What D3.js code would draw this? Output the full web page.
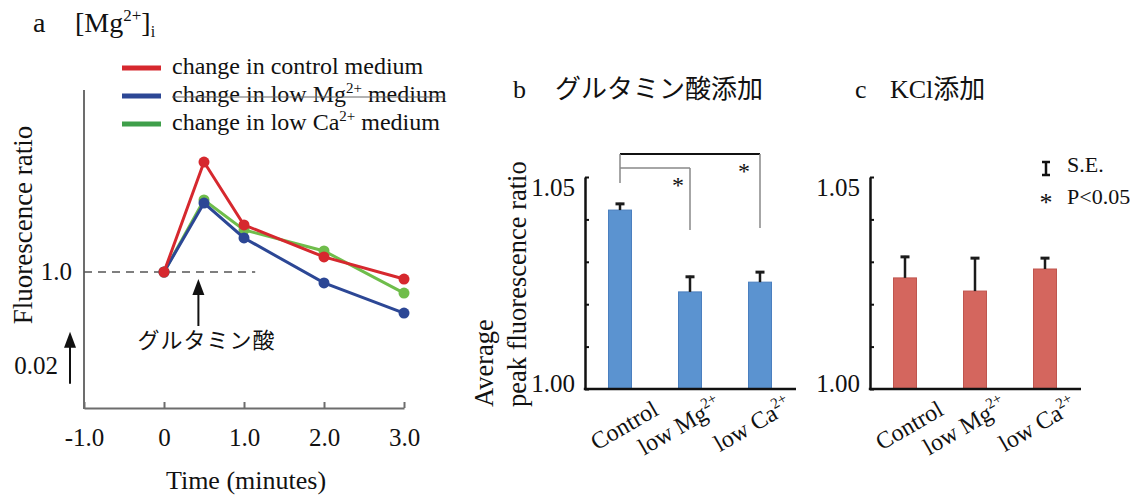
<!DOCTYPE html>
<html>
<head>
<meta charset="utf-8">
<script src="https://cdn.jsdelivr.net/npm/d3@7"></script>
<style>
  html, body { margin: 0; padding: 0; background: #fff; }
  svg { display: block; }
  text { font-family: "Liberation Serif", "Noto Sans CJK JP", serif; fill: #111; }
</style>
</head>
<body>
<svg id="fig" width="1140" height="498"></svg>
<script>
// ---- panel a: time course of [Mg2+]i fluorescence ratio ----
const timeMin = [0, 0.5, 1, 2, 3];
const controlRatio = [1.0, 1.0423, 1.0181, 1.0058, 0.9973];
const lowMgRatio   = [1.0, 1.0265, 1.0131, 0.9958, 0.9842];
const lowCaRatio   = [1.0, 1.0277, 1.0162, 1.0081, 0.9919];
const timeTicks = [-1, 0, 1, 2, 3];
const timeTickLabels = ["-1.0", "0", "1.0", "2.0", "3.0"];
const seriesNames = ["change in control medium", "change in low Mg", "change in low Ca"];

// ---- panel b / c: average peak fluorescence ratio ----
const groups = ["Control", "low Mg", "low Ca"];
const glutamateMean = [1.0422, 1.0229, 1.0252];
const glutamateSE   = [0.0017, 0.0038, 0.0026];
const kclMean = [1.0262, 1.0231, 1.0283];
const kclSE   = [0.0052, 0.0080, 0.0028];
const peakTicks = [1.00, 1.01, 1.02, 1.03, 1.04, 1.05];
const peakTickLabels = ["1.00", "", "", "", "", "1.05"];

const svg = d3.select("#fig");

// ================= panel a =================
const ax = d3.scaleLinear().domain([-1, 3]).range([84, 404]);
const ay = d3.scaleLinear().domain([0.9477, 1.07]).range([408, 90]);
const axisGrey = "#6d6d6d";

const gA = svg.append("g");

// title
const tA = gA.append("text").attr("x", 33).attr("y", 32).style("font-size", "28px");
tA.append("tspan").text("a");
tA.append("tspan").attr("x", 75).text("[Mg");
tA.append("tspan").attr("dy", -11).style("font-size", "17px").text("2+");
tA.append("tspan").attr("dy", 11).text("]");
tA.append("tspan").attr("dy", 5).style("font-size", "16px").text("i");

// axes
const xAxisA = d3.axisBottom(ax).tickValues(timeTicks).tickSizeInner(-6).tickSizeOuter(0)
  .tickFormat((d, i) => timeTickLabels[i]).tickPadding(20);
const gxA = gA.append("g").attr("transform", `translate(0,${ay.range()[0]})`).call(xAxisA);
gxA.select(".domain").attr("stroke", axisGrey).attr("stroke-width", 2);
gxA.selectAll(".tick line").attr("stroke", axisGrey).attr("stroke-width", 2);
gxA.selectAll(".tick text").style("font-size", "25px").attr("fill", "#111").attr("font-family", null);

gA.append("line").attr("x1", ax(-1)).attr("x2", ax(-1)).attr("y1", ay.range()[0] + 1).attr("y2", ay.range()[1])
  .attr("stroke", axisGrey).attr("stroke-width", 2);

gA.append("text").attr("x", (ax(-1) + ax(3)) / 2 + 2).attr("y", 489).attr("text-anchor", "middle")
  .style("font-size", "26px").text("Time (minutes)");

gA.append("text").attr("transform", "translate(32,225) rotate(-90)")
  .attr("text-anchor", "middle").style("font-size", "27px").text("Fluorescence ratio");

// 1.0 reference
gA.append("text").attr("x", 72).attr("y", ay(1.0) + 8).attr("text-anchor", "end")
  .style("font-size", "25px").text("1.0");
gA.append("line").attr("x1", ax(-1)).attr("x2", ax(1.14)).attr("y1", ay(1.0)).attr("y2", ay(1.0))
  .attr("stroke", "#555").attr("stroke-width", 1.5).attr("stroke-dasharray", "8,6");

// vertical scale arrow (0.02 units)
function upArrow(g, x, yBottom, yTop, w, h) {
  g.append("line").attr("x1", x).attr("x2", x).attr("y1", yBottom).attr("y2", yTop + h - 1)
    .attr("stroke", "#111").attr("stroke-width", 2);
  g.append("path").attr("d", `M${x},${yTop} L${x - w / 2},${yTop + h} L${x + w / 2},${yTop + h} Z`)
    .attr("fill", "#111");
}
const scaleBase = 0.957;
upArrow(gA, 70, ay(scaleBase), ay(scaleBase + 0.02), 12, 16);
gA.append("text").attr("x", 58).attr("y", 374).attr("text-anchor", "end")
  .style("font-size", "25px").text("0.02");

// glutamate application marker
const glutT = 0.43;
upArrow(gA, ax(glutT), 326, 279, 12, 16);
gA.append("text").attr("x", ax(glutT) + 8).attr("y", 348).attr("text-anchor", "middle")
  .style("font-size", "22px").style("letter-spacing", "1px").text("グルタミン酸");

// series
const seriesA = [
  { name: seriesNames[2], vals: lowCaRatio,   color: "#6fbd4b", key: "#3f9f4a" },
  { name: seriesNames[1], vals: lowMgRatio,   color: "#2c4795", key: "#2c4795" },
  { name: seriesNames[0], vals: controlRatio, color: "#d6282e", key: "#d6282e" }
];
const lineGen = d3.line().x((d, i) => ax(timeMin[i])).y(d => ay(d));
seriesA.forEach(s => {
  gA.append("path").attr("d", lineGen(s.vals)).attr("fill", "none")
    .attr("stroke", s.color).attr("stroke-width", 3);
  gA.selectAll(null).data(s.vals).join("circle")
    .attr("cx", (d, i) => ax(timeMin[i])).attr("cy", d => ay(d)).attr("r", 5.5).attr("fill", s.color);
});

// legend
const legendItems = [seriesA[2], seriesA[1], seriesA[0]];
legendItems.forEach((s, i) => {
  const y = 68 + i * 28;
  gA.append("line").attr("x1", 122).attr("x2", 161).attr("y1", y).attr("y2", y)
    .attr("stroke", s.key).attr("stroke-width", 5);
  const t = gA.append("text").attr("x", 172).attr("y", y + 6).style("font-size", "24px");
  if (i === 0) {
    t.text(s.name);
  } else {
    t.append("tspan").text(s.name);
    t.append("tspan").attr("dy", -9).style("font-size", "15px").text("2+");
    t.append("tspan").attr("dy", 9).text(" medium");
  }
});
// thin rule running through the second legend entry
gA.append("line").attr("x1", 172).attr("x2", 445).attr("y1", 97).attr("y2", 97)
  .attr("stroke", "#666").attr("stroke-width", 1);

// ================= panels b and c =================
function barPanel(cfg) {
  const g = svg.append("g");
  const x = d3.scalePoint().domain(groups).range(cfg.xRange).padding(0.5);
  const y = d3.scaleLinear().domain([1.00, 1.05]).range([389, 177]);
  const x0 = cfg.xRange[0];

  // title
  const t = g.append("text").attr("x", cfg.titleX).attr("y", 98).style("font-size", "26px");
  t.append("tspan").text(cfg.letter);
  t.append("tspan").attr("x", cfg.titleX + cfg.titleGap).text(cfg.title);

  // bars
  const barW = 23;
  g.selectAll(null).data(cfg.mean).join("rect")
    .attr("x", (d, i) => x(groups[i]) - barW / 2).attr("width", barW)
    .attr("y", d => y(d)).attr("height", d => y(1.00) - y(d))
    .attr("fill", cfg.fill).attr("stroke", cfg.edge).attr("stroke-width", 1);

  // S.E. whiskers (upper only)
  cfg.mean.forEach((m, i) => {
    const cx = x(groups[i]);
    g.append("line").attr("x1", cx).attr("x2", cx).attr("y1", y(m)).attr("y2", y(m + cfg.se[i]))
      .attr("stroke", "#1b1b1b").attr("stroke-width", 2.5);
    g.append("line").attr("x1", cx - 4.5).attr("x2", cx + 4.5)
      .attr("y1", y(m + cfg.se[i]) + 1).attr("y2", y(m + cfg.se[i]) + 1)
      .attr("stroke", "#1b1b1b").attr("stroke-width", 3);
  });

  // axes
  const yAxis = d3.axisLeft(y).tickValues(peakTicks).tickSizeInner(-4).tickSizeOuter(0)
    .tickPadding(10).tickFormat((d, i) => peakTickLabels[i]);
  const gy = g.append("g").attr("transform", `translate(${x0},0)`).call(yAxis);
  gy.select(".domain").attr("stroke", "#111").attr("stroke-width", 2.5);
  gy.selectAll(".tick line").attr("stroke", "#111").attr("stroke-width", 2);
  gy.selectAll(".tick text").style("font-size", "25px").attr("fill", "#111").attr("font-family", null)
    .attr("dy", (d, i) => i === 0 ? "0.1em" : "0.75em");

  const xAxis = d3.axisBottom(x).tickSize(0).tickFormat("");
  const gx = g.append("g").attr("transform", `translate(0,${y(1.00)})`).call(xAxis);
  gx.select(".domain").attr("stroke", "#111").attr("stroke-width", 2.5)
    .attr("d", `M${x0 - 1.2},0H${cfg.xRange[1] + 1}`);

  // rotated category labels
  groups.forEach((name, i) => {
    const cx = x(name) + (i === 0 ? 40 : 33);
    const lt = g.append("text")
      .attr("transform", `translate(${cx},${i === 0 ? 414 : 410}) rotate(-30)`)
      .attr("text-anchor", "end").style("font-size", "24px");
    lt.append("tspan").text(name);
    if (i > 0) lt.append("tspan").attr("dy", -10).style("font-size", "15px").text("2+");
  });
  return { g, x, y };
}

const pB = barPanel({
  xRange: [585, 795], mean: glutamateMean, se: glutamateSE,
  fill: "#5b93d0", edge: "#4a7fbf", letter: "b", titleX: 513, titleGap: 42, title: "グルタミン酸添加"
});
const pC = barPanel({
  xRange: [870, 1080], mean: kclMean, se: kclSE,
  fill: "#d4665e", edge: "#c0554e", letter: "c", titleX: 855, titleGap: 35, title: "KCl添加"
});

// y title for b
pB.g.append("text").attr("transform", "translate(493,407) rotate(-90)").style("font-size", "26.5px").text("Average");
pB.g.append("text").attr("transform", "translate(526,407) rotate(-90)").style("font-size", "26.5px").text("peak fluorescence ratio");

// significance brackets in b (control vs low Mg, control vs low Ca)
const comparisons = [
  { to: "low Ca", level: 0, drop: 74, starDx: -16 },
  { to: "low Mg", level: 1, drop: 62, starDx: -12 }
];
const bx = pB.x;
const bracketTop = 154;
comparisons.forEach(c => {
  const yTop = bracketTop + c.level * 14;
  const x1 = bx("Control"), x2 = bx(c.to);
  pB.g.append("line").attr("x1", x1).attr("x2", x2).attr("y1", yTop).attr("y2", yTop)
    .attr("stroke", c.level === 0 ? "#111" : "#888").attr("stroke-width", c.level === 0 ? 2 : 1.5);
  pB.g.append("line").attr("x1", x2).attr("x2", x2).attr("y1", yTop).attr("y2", yTop + c.drop)
    .attr("stroke", "#888").attr("stroke-width", 1.5);
  pB.g.append("text").attr("x", x2 + c.starDx).attr("y", yTop + 25).attr("text-anchor", "middle")
    .style("font-size", "24px").text("*");
});
pB.g.append("line").attr("x1", bx("Control")).attr("x2", bx("Control")).attr("y1", bracketTop).attr("y2", 183)
  .attr("stroke", "#888").attr("stroke-width", 1.5);

// key for whiskers and asterisks in c
const kx = 1046;
pC.g.append("path").attr("d", `M${kx - 4},162 H${kx + 4} M${kx},162 V175 M${kx - 4},175 H${kx + 4}`)
  .attr("stroke", "#111").attr("stroke-width", 2.5).attr("fill", "none");
pC.g.append("text").attr("x", 1067).attr("y", 172).style("font-size", "22px").text("S.E.");
pC.g.append("text").attr("x", kx).attr("y", 211).attr("text-anchor", "middle").style("font-size", "26px").text("*");
pC.g.append("text").attr("x", 1067).attr("y", 204).style("font-size", "22px").text("P<0.05");
</script>
</body>
</html>
